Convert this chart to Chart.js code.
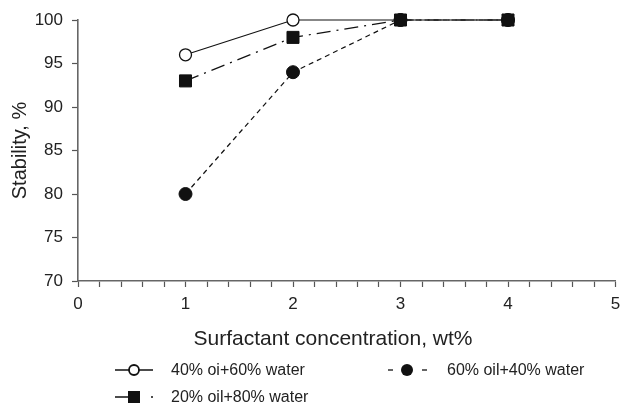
<!DOCTYPE html>
<html>
<head>
<meta charset="utf-8">
<script src="https://cdn.jsdelivr.net/npm/chart.js@4/dist/chart.umd.min.js"></script>
<style>
html,body{margin:0;padding:0;background:#fff;overflow:hidden;}
#wrap{position:relative;width:620px;height:408px;overflow:hidden;}
canvas{position:absolute;left:0;top:0;}
.leg{position:absolute;font-family:"Liberation Sans",Arial,sans-serif;font-size:16px;color:#222;height:20px;line-height:20px;white-space:nowrap;}
.leg svg{position:absolute;left:0;top:2px;}
.leg span{position:absolute;top:0;}
#xt{position:absolute;left:133px;width:400px;top:326px;text-align:center;font-family:"Liberation Sans",Arial,sans-serif;font-size:21px;line-height:24px;color:#222;}
</style>
</head>
<body>
<div id="wrap">
<canvas id="c" width="625" height="408"></canvas>
<div id="xt"></div>
<div class="leg" id="l1" style="left:115px;top:360px;"></div>
<div class="leg" id="l3" style="left:388px;top:360px;"></div>
<div class="leg" id="l2" style="left:115px;top:387px;"></div>
</div>
<script>
const xValues = [1, 2, 3, 4];
const s40oil = [96, 100, 100, 100];
const s20oil = [93, 98, 100, 100];
const s60oil = [80, 94, 100, 100];
const seriesNames = ["40% oi+60% water", "20% oil+80% water", "60% oil+40% water"];
const xTitle = "Surfactant concentration, wt%";
const yTitle = "Stability, %";
const yTicks = [70, 75, 80, 85, 90, 95, 100];
const xTicks = [0, 0.2, 0.4, 0.6, 0.8, 1, 1.2, 1.4, 1.6, 1.8, 2, 2.2, 2.4, 2.6, 2.8, 3, 3.2, 3.4, 3.6, 3.8, 4, 4.2, 4.4, 4.6, 4.8, 5];
const xLabels = [0, 1, 2, 3, 4, 5];

const pts = (ys) => xValues.map((x, i) => ({x: x, y: ys[i]}));
const FONT = "'Liberation Sans', Arial, sans-serif";

new Chart(document.getElementById('c'), {
  type: 'scatter',
  data: {
    datasets: [
      {label: seriesNames[0], data: pts(s40oil), showLine: true, clip: false, borderColor: '#111', borderWidth: 1.2,
       pointStyle: 'circle', pointRadius: 6, pointBackgroundColor: '#fff', pointBorderColor: '#111', pointBorderWidth: 1.3, order: 3},
      {label: seriesNames[2], data: pts(s60oil), showLine: true, clip: false, borderColor: '#111', borderWidth: 1.2, borderDash: [5, 4],
       pointStyle: 'circle', pointRadius: 6.5, pointBackgroundColor: '#111', pointBorderColor: '#111', pointBorderWidth: 1, order: 2},
      {label: seriesNames[1], data: pts(s20oil), showLine: true, clip: false, borderColor: '#111', borderWidth: 1.2, borderDash: [14, 6, 2, 6],
       pointStyle: 'rect', pointRadius: 8.5, pointBackgroundColor: '#111', pointBorderColor: '#111', pointBorderWidth: 1, order: 1}
    ]
  },
  options: {
    responsive: false,
    animation: false,
    layout: {padding: {left: 4, top: 20, right: 0, bottom: 54}},
    plugins: {legend: {display: false}, tooltip: {enabled: false}},
    scales: {
      x: {
        type: 'linear', min: 0, max: 5,
        border: {display: true, color: '#666', width: 1.6},
        grid: {display: true, drawOnChartArea: false, drawTicks: true, tickLength: 6, color: '#555', tickWidth: 1.2},
        afterBuildTicks: (s) => { s.ticks = xTicks.map(v => ({value: v})); },
        ticks: {autoSkip: false, maxRotation: 0, color: '#222', font: {family: FONT, size: 17}, padding: 7,
          callback: (v) => xLabels.some(l => Math.abs(l - v) < 1e-6) ? String(Math.round(v)) : ''},
        title: {display: false},
        afterFit: (s) => { s.height = 73; s.paddingRight = 0; s.paddingLeft = 0; }
      },
      y: {
        type: 'linear', min: 70, max: 100,
        border: {display: true, color: '#666', width: 1.6},
        grid: {display: true, drawOnChartArea: false, drawTicks: true, tickLength: 6, color: '#555', tickWidth: 1.2},
        afterBuildTicks: (s) => { s.ticks = yTicks.map(v => ({value: v})); },
        ticks: {color: '#222', font: {family: FONT, size: 17}, padding: 9},
        title: {display: true, text: yTitle, color: '#222', font: {family: FONT, size: 20}, padding: {top: 4, bottom: 4}},
        afterFit: (s) => { s.width = 74; }
      }
    }
  }
});

document.getElementById('xt').textContent = xTitle;

function sample(kind) {
  const w = 40, h = 16, cy = 8;
  let line = '', mark = '';
  if (kind === 0) {
    line = `<line x1="0" y1="${cy}" x2="38" y2="${cy}" stroke="#111" stroke-width="1.5"/>`;
    mark = `<circle cx="19" cy="${cy}" r="5" fill="#fff" stroke="#111" stroke-width="1.8"/>`;
  } else if (kind === 1) {
    line = `<line x1="0" y1="${cy}" x2="13" y2="${cy}" stroke="#111" stroke-width="1.5"/><line x1="36" y1="${cy}" x2="38" y2="${cy}" stroke="#111" stroke-width="1.3"/>`;
    mark = `<rect x="13" y="${cy-6}" width="12" height="12" fill="#111"/>`;
  } else {
    line = `<line x1="0" y1="${cy}" x2="5" y2="${cy}" stroke="#111" stroke-width="1.3"/><line x1="34" y1="${cy}" x2="39" y2="${cy}" stroke="#111" stroke-width="1.3"/>`;
    mark = `<circle cx="19" cy="${cy}" r="6" fill="#111"/>`;
  }
  return `<svg width="${w}" height="${h}">${line}${mark}</svg>`;
}
document.getElementById('l1').innerHTML = sample(0) + '<span style="left:56px">' + seriesNames[0] + '</span>';
document.getElementById('l2').innerHTML = sample(1) + '<span style="left:56px">' + seriesNames[1] + '</span>';
document.getElementById('l3').innerHTML = sample(2) + '<span style="left:59px">' + seriesNames[2] + '</span>';
</script>
</body>
</html>
